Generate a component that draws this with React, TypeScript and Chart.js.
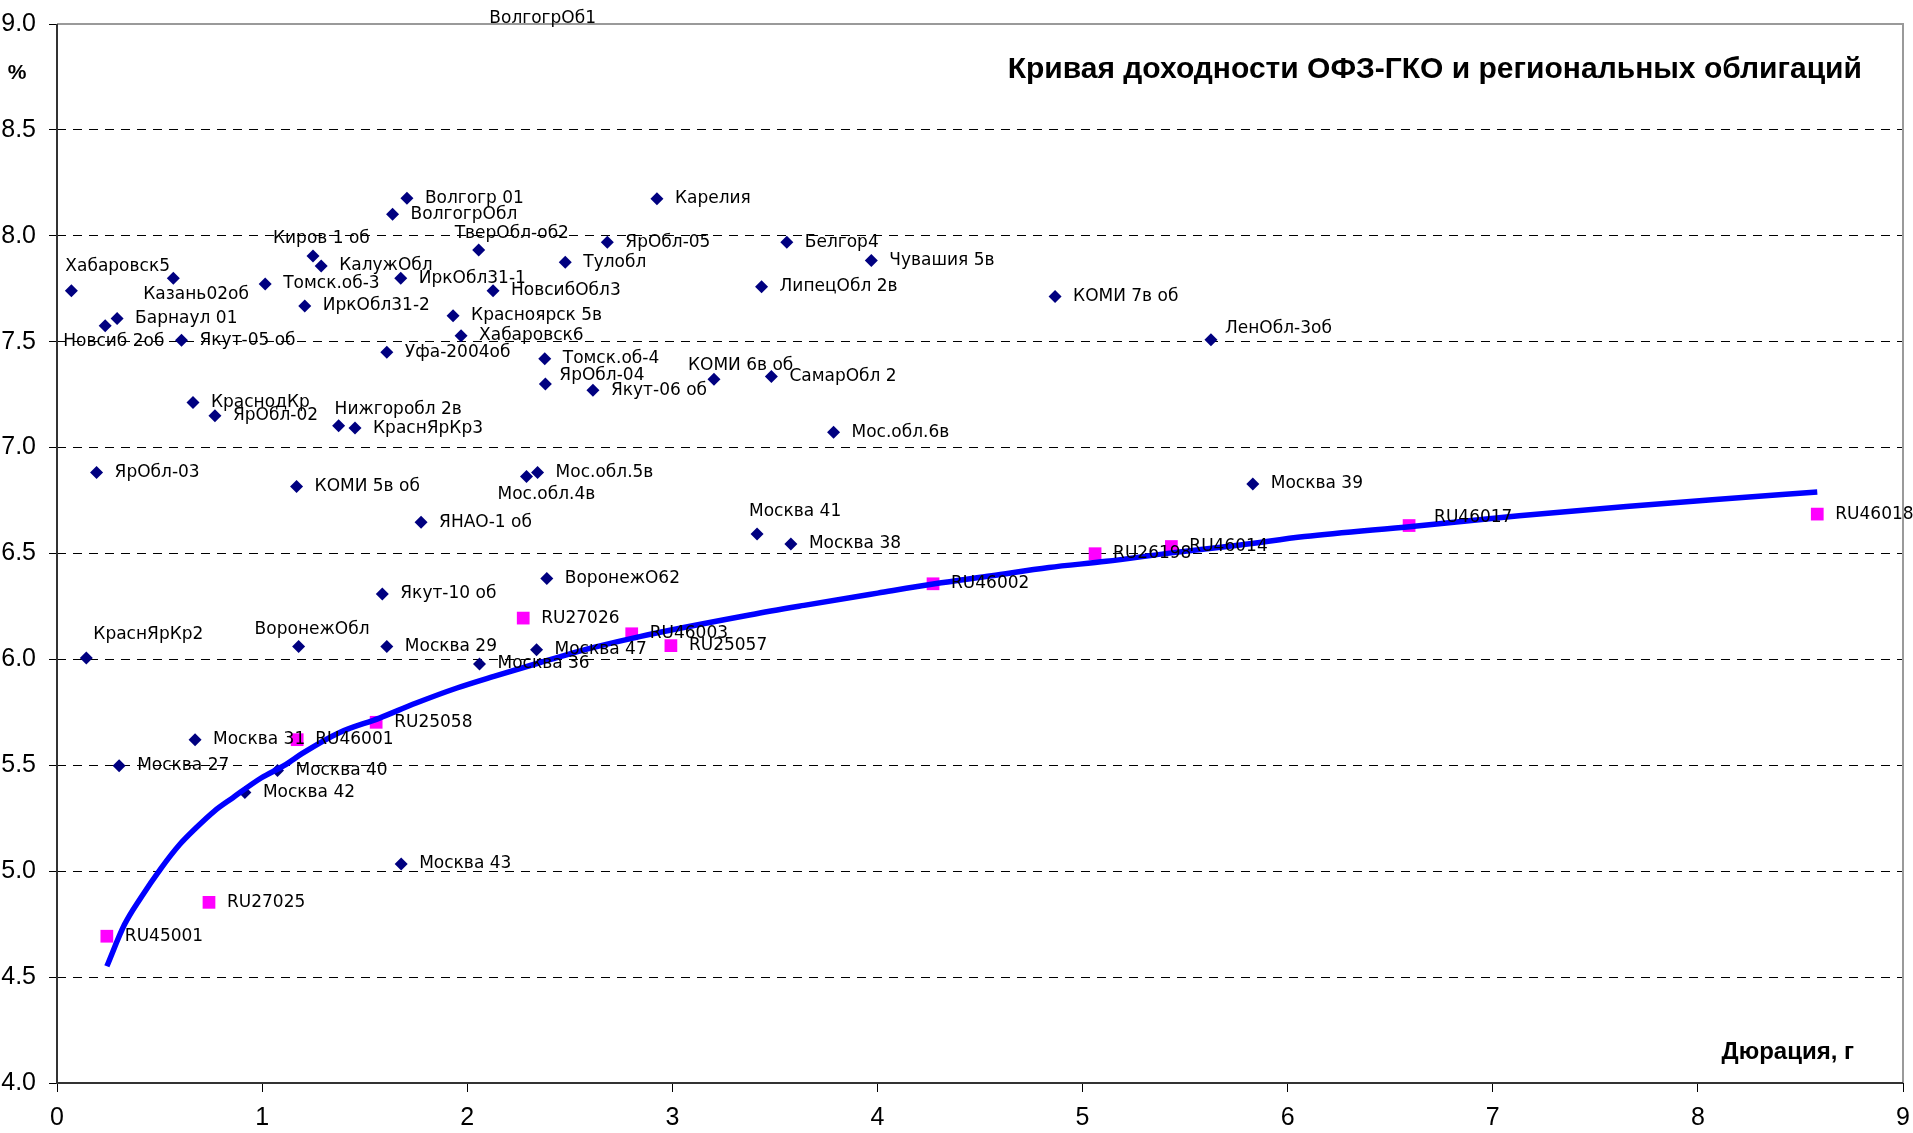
import React, { useEffect, useRef } from "react";
import { Chart, registerables } from "chart.js";

Chart.register(...registerables);

// ---- Data ----
const regionalNames = [
  "Хабаровск5", "Новсиб 2об", "Барнаул 01", "Казань02об", "Якут-05 об", "Томск.об-3",
  "ИркОбл31-2", "Киров 1 об", "КалужОбл", "Уфа-2004об", "ВолгогрОбл", "ИркОбл31-1",
  "Волгогр 01", "Красноярск 5в", "Хабаровск6", "ТверОбл-об2", "НовсибОбл3", "Томск.об-4",
  "ЯрОбл-04", "Тулобл", "Якут-06 об", "ЯрОбл-05", "Карелия", "КОМИ 6в об",
  "ЛипецОбл 2в", "СамарОбл 2", "Белгор4", "Мос.обл.6в", "Чувашия 5в", "КОМИ 7в об",
  "ЛенОбл-3об", "КраснодКр", "ЯрОбл-02", "Нижгоробл 2в", "КраснЯрКр3", "ЯрОбл-03",
  "КОМИ 5в об", "Мос.обл.4в", "Мос.обл.5в", "ЯНАО-1 об", "Якут-10 об", "ВоронежО62",
  "Москва 41", "Москва 38", "Москва 39", "КраснЯрКр2", "ВоронежОбл", "Москва 29",
  "Москва 36", "Москва 47", "Москва 31", "Москва 27", "Москва 40", "Москва 42",
  "Москва 43", "ВолгогрОб1",
];
const regionalDuration = [
  0.070, 0.235, 0.293, 0.567, 0.607, 1.015,
  1.208, 1.248, 1.288, 1.608, 1.636, 1.676,
  1.706, 1.931, 1.970, 2.056, 2.126, 2.378,
  2.381, 2.478, 2.613, 2.683, 2.925, 3.203,
  3.435, 3.483, 3.558, 3.786, 3.970, 4.866,
  5.626, 0.663, 0.770, 1.373, 1.453, 0.193,
  1.168, 2.289, 2.343, 1.775, 1.586, 2.388,
  3.413, 3.578, 5.830, 0.143, 1.178, 1.608,
  2.060, 2.338, 0.673, 0.303, 1.075, 0.916,
  1.678, 2.02,
];
const regionalYield = [
  7.74, 7.575, 7.61, 7.80, 7.507, 7.773,
  7.669, 7.905, 7.858, 7.45, 8.102, 7.80,
  8.177, 7.622, 7.528, 7.933, 7.74, 7.42,
  7.30, 7.875, 7.271, 7.97, 8.175, 7.323,
  7.76, 7.336, 7.97, 7.073, 7.883, 7.713,
  7.509, 7.213, 7.15, 7.103, 7.092, 6.883,
  6.816, 6.864, 6.883, 6.647, 6.309, 6.382,
  6.592, 6.545, 6.828, 6.007, 6.061, 6.061,
  5.978, 6.046, 5.621, 5.498, 5.476, 5.372,
  5.034, 9.06,
];

const ofzNames = [
  "RU45001", "RU27025", "RU46001", "RU25058", "RU27026", "RU46003",
  "RU25057", "RU46002", "RU26198", "RU46014", "RU46017", "RU46018",
];
const ofzDuration = [0.243, 0.741, 1.171, 1.556, 2.273, 2.802, 2.993, 4.271, 5.061, 5.433, 6.592, 8.582];
const ofzYield = [4.693, 4.853, 5.621, 5.703, 6.195, 6.121, 6.065, 6.357, 6.499, 6.533, 6.632, 6.686];

const curveDuration = [
  0.243, 0.329, 0.408, 0.508, 0.597, 0.677, 0.766, 0.856, 0.995, 1.115,
  1.194, 1.373, 1.572, 1.751, 1.950, 2.130, 2.348, 2.607, 2.846, 3.383,
  3.642, 4.001, 4.279, 4.557, 4.836, 5.115, 5.433, 5.768, 6.082, 6.605,
  7.128, 7.651, 8.070, 8.582,
];
const curveYield = [
  4.551, 4.748, 4.874, 5.015, 5.125, 5.204, 5.283, 5.346, 5.440, 5.503,
  5.555, 5.653, 5.723, 5.794, 5.865, 5.920, 5.983, 6.054, 6.109, 6.211,
  6.255, 6.313, 6.357, 6.395, 6.434, 6.463, 6.503, 6.540, 6.580, 6.628,
  6.678, 6.722, 6.754, 6.790,
];

const xTicks = [0, 1, 2, 3, 4, 5, 6, 7, 8, 9];
const yTicks = [4.0, 4.5, 5.0, 5.5, 6.0, 6.5, 7.0, 7.5, 8.0, 8.5, 9.0];

const titleText = "Кривая доходности ОФЗ-ГКО и региональных облигаций";
const yAxisText = "%";
const xAxisText = "Дюрация, г";

// ---- Styling: label placements (pixel offsets of label start / middle) ----
const labelOffsets: Record<string, [number, number]> = {
  "Хабаровск5": [-6, -24],
  "Казань02об": [-30, 16],
  "Новсиб 2об": [-42, 16],
  "Киров 1 об": [-40, -17],
  "ТверОбл-об2": [-24, -16],
  "Нижгоробл 2в": [-4, -16],
  "Мос.обл.4в": [-29, 18],
  "КраснЯрКр2": [7, -23],
  "ВоронежОбл": [-44, -17],
  "Москва 41": [-8, -22],
  "ЯрОбл-04": [14, -8],
  "КОМИ 6в об": [-26, -14],
  "ЛенОбл-3об": [14, -11],
  "RU46017": [25, -8],
  "ВолгогрОб1": [18, 7],
};
const defaultOffset: [number, number] = [18, 0];

const ARIAL = '"Liberation Sans", Arial, sans-serif';
const LABEL_FONT = '17px "DejaVu Sans", Verdana, sans-serif';

export default function App() {
  const ref = useRef<HTMLCanvasElement | null>(null);

  useEffect(() => {
    const canvas = ref.current;
    if (!canvas) return;

    const labelsPlugin = {
      id: "pointLabels",
      afterDatasetsDraw(chart: any) {
        const ctx = chart.ctx;
        ctx.save();
        ctx.font = LABEL_FONT;
        ctx.fillStyle = "#000";
        ctx.textAlign = "left";
        ctx.textBaseline = "middle";
        const sets: [number, string[]][] = [[1, ofzNames], [2, regionalNames]];
        sets.forEach(([di, names]) => {
          const meta = chart.getDatasetMeta(di);
          meta.data.forEach((pt: any, i: number) => {
            const name = names[i];
            const off = labelOffsets[name] || defaultOffset;
            ctx.fillText(name, pt.x + off[0], pt.y + off[1]);
          });
        });
        ctx.restore();
      },
    };

    const framePlugin = {
      id: "frame",
      beforeDatasetsDraw(chart: any) {
        const { ctx, chartArea: a } = chart;
        ctx.save();
        ctx.lineWidth = 2;
        ctx.strokeStyle = "#9a9a9a";
        ctx.beginPath();
        ctx.moveTo(a.left, a.top);
        ctx.lineTo(a.right, a.top);
        ctx.lineTo(a.right, a.bottom);
        ctx.stroke();
        ctx.strokeStyle = "#333";
        ctx.beginPath();
        ctx.moveTo(a.left, a.top);
        ctx.lineTo(a.left, a.bottom);
        ctx.lineTo(a.right, a.bottom);
        ctx.stroke();
        ctx.restore();
      },
    };

    const textPlugin = {
      id: "texts",
      afterDraw(chart: any) {
        const { ctx, chartArea: a } = chart;
        ctx.save();
        ctx.fillStyle = "#000";
        ctx.textBaseline = "middle";
        ctx.font = `bold 30px ${ARIAL}`;
        ctx.textAlign = "right";
        ctx.fillText(titleText, a.right - 41, 70);
        ctx.font = `bold 24px ${ARIAL}`;
        ctx.fillText(xAxisText, a.right - 49, a.bottom - 31);
        ctx.font = `bold 21px ${ARIAL}`;
        ctx.textAlign = "center";
        ctx.fillText(yAxisText, 17, 73);
        ctx.restore();
      },
    };

    const chart = new Chart(canvas, {
      type: "scatter",
      data: {
        datasets: [
          {
            type: "line",
            data: curveDuration.map((x, i) => ({ x, y: curveYield[i] })),
            borderColor: "#0000FF",
            borderWidth: 5.5,
            pointRadius: 0,
            cubicInterpolationMode: "monotone",
            fill: false,
            order: 0,
          } as any,
          {
            data: ofzDuration.map((x, i) => ({ x, y: ofzYield[i] })),
            pointStyle: "rect",
            pointRadius: 9,
            backgroundColor: "#FF00FF",
            borderWidth: 0,
            order: 1,
          },
          {
            data: regionalDuration.map((x, i) => ({ x, y: regionalYield[i] })),
            pointStyle: "rectRot",
            pointRadius: 6.5,
            backgroundColor: "#000080",
            borderWidth: 0,
            clip: 0,
            order: 2,
          } as any,
        ],
      },
      options: {
        animation: false,
        responsive: false,
        devicePixelRatio: 1,
        layout: { padding: { top: 24, right: 10, left: 0, bottom: 0 } },
        plugins: { legend: { display: false }, tooltip: { enabled: false } },
        events: [],
        scales: {
          x: {
            type: "linear",
            min: xTicks[0],
            max: xTicks[xTicks.length - 1],
            afterFit: (s: any) => {
              s.height = 50;
              s.paddingLeft = 0;
              s.paddingRight = 0;
            },
            afterBuildTicks: (s: any) => { s.ticks = xTicks.map((v) => ({ value: v })); },
            ticks: {
              autoSkip: false,
              padding: 11,
              color: "#000",
              font: { family: ARIAL, size: 25 },
              maxRotation: 0,
            },
            grid: { drawOnChartArea: false, tickLength: 9, tickColor: "#000", tickWidth: 1 },
            border: { display: false },
          },
          y: {
            type: "linear",
            min: yTicks[0],
            max: yTicks[yTicks.length - 1],
            afterFit: (s: any) => {
              s.width = 57;
              s.paddingTop = 0;
              s.paddingBottom = 0;
            },
            afterBuildTicks: (s: any) => { s.ticks = yTicks.map((v) => ({ value: v })); },
            ticks: {
              autoSkip: false,
              padding: 13,
              color: "#000",
              font: { family: ARIAL, size: 25 },
              callback: (v: any) => Number(v).toFixed(1),
            },
            grid: {
              color: (c: any) =>
                c.tick && (c.tick.value === yTicks[0] || c.tick.value === yTicks[yTicks.length - 1])
                  ? "rgba(0,0,0,0)"
                  : "#000",
              lineWidth: 1,
              tickLength: 8,
              tickColor: "#000",
              tickWidth: 1,
            },
            border: { display: false, dash: [9, 7] },
          },
        },
      },
      plugins: [framePlugin, labelsPlugin, textPlugin],
    } as any);

    return () => chart.destroy();
  }, []);

  return (
    <div style={{ position: "absolute", left: 0, top: 0, width: 1913, height: 1133, background: "#fff" }}>
      <canvas ref={ref} width={1913} height={1133} style={{ display: "block" }} />
    </div>
  );
}
